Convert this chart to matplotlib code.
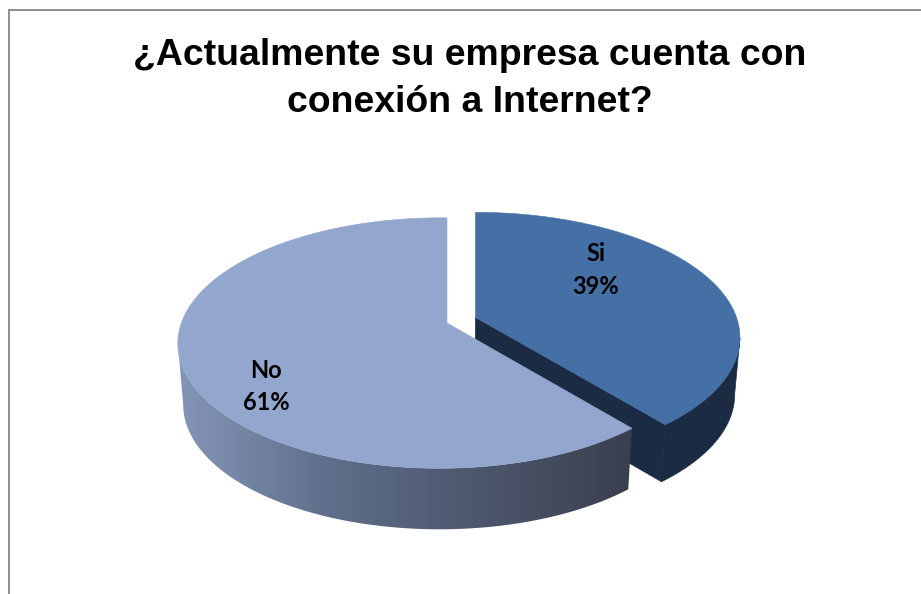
import numpy as np
import matplotlib.pyplot as plt
from matplotlib.colors import LinearSegmentedColormap
from matplotlib.patches import Polygon

labels = ['Si', 'No']
shares = [39, 61]
title = '¿Actualmente su empresa cuenta con\nconexión a Internet?'

# Slice colours: top face, then side wall
TOP_COLORS = ['#4570A6', '#92A6CE']
SI_WALL = '#1A2B43'
NO_WALL = LinearSegmentedColormap.from_list('no_wall', ['#8496B8', '#5F6E8A', '#4C566C', '#3A3F4F'])

# Projection of the pie disc (canvas units are pixels, y pointing down)
RY, PERSP = 122.0, 0.16
WALL_SCALE = 0.98
SI_GEOM = dict(apex=(475.5, 317.5), rx=261.0, skew=0.0, drop=57.0)
NO_GEOM = dict(apex=(447.0, 323.0), rx=259.0, skew=0.025, drop=61.0)


def rim(theta, geom):
    """Top-face rim points for clockwise-from-top angles."""
    px, py = np.sin(theta), np.cos(theta)
    w = 1 + PERSP * py + geom['skew'] * px
    return geom['apex'][0] + geom['rx'] * px / w, geom['apex'][1] - RY * py / w


def low_rim(theta, geom):
    x, y = rim(theta, geom)
    return geom['apex'][0] + WALL_SCALE * (x - geom['apex'][0]), y + geom['drop']


def wall_polygon(start, stop, geom, pick):
    """Outline of the visible wall, from the slice edge round to the side extreme of the rim."""
    theta = np.linspace(start, stop, 400)
    x0, y0 = rim(theta, geom)
    x1, y1 = low_rim(theta, geom)
    cut_top, cut_low = pick(x0), pick(x1)
    # keep the front part of each arc, between the slice corner and the extreme
    top_idx = np.arange(cut_top, len(theta)) if start < np.pi / 2 else np.arange(0, cut_top + 1)
    low_idx = np.arange(cut_low, len(theta)) if start < np.pi / 2 else np.arange(0, cut_low + 1)
    return np.c_[np.r_[x0[top_idx], x1[low_idx][::-1]], np.r_[y0[top_idx], y1[low_idx][::-1]]]


def top_polygon(start, stop, geom):
    x, y = rim(np.linspace(start, stop, 300), geom)
    return np.c_[np.r_[geom['apex'][0], x], np.r_[geom['apex'][1], y]]


fig = plt.figure(figsize=(9.21, 5.94), dpi=100)
ax = fig.add_axes([0, 0, 1, 1])

# Chart frame, running off the right and bottom of the canvas
ax.plot([9, 9, 921], [594, 10, 10], color='#8E8E8E', linewidth=1.4, solid_joinstyle='miter', zorder=1)

# Slice boundaries in radians, clockwise from twelve o'clock
edges = 2 * np.pi * np.cumsum([0] + shares) / sum(shares)

# "Si" goes first since the "No" slice overlaps it at the front
ax.add_patch(Polygon(wall_polygon(edges[0], edges[1], SI_GEOM, np.argmax), closed=True,
                     facecolor=SI_WALL, edgecolor=SI_WALL, linewidth=0.5, zorder=2))
apex_x, apex_y = SI_GEOM['apex']
corner_top = rim(edges[1], SI_GEOM)
corner_low = low_rim(edges[1], SI_GEOM)
ax.add_patch(Polygon([(apex_x, apex_y), corner_top, corner_low, (apex_x, apex_y + SI_GEOM['drop'])],
                     closed=True, facecolor=SI_WALL, edgecolor=SI_WALL, linewidth=0.5, zorder=2))
ax.add_patch(Polygon(top_polygon(edges[0], edges[1], SI_GEOM), closed=True,
                     facecolor=TOP_COLORS[0], edgecolor=TOP_COLORS[0], linewidth=0.4, zorder=3))

# The "No" wall is a horizontal gradient clipped to the wall outline
wall_outline = Polygon(wall_polygon(edges[1], edges[2], NO_GEOM, np.argmin), closed=True,
                       transform=ax.transData, facecolor='none', edgecolor='none')
gradient = ax.imshow(np.linspace(0, 1, 256)[None, :], cmap=NO_WALL, aspect='auto',
                     extent=(178, 632, 540, 340), zorder=4)
ax.add_patch(wall_outline)
gradient.set_clip_path(wall_outline)
ax.add_patch(Polygon(top_polygon(edges[1], edges[2], NO_GEOM), closed=True,
                     facecolor=TOP_COLORS[1], edgecolor=TOP_COLORS[1], linewidth=0.4, zorder=5))

# Data labels
label_xy = [(595.5, 270), (266, 386.5)]
for name, share, (lx, ly) in zip(labels, shares, label_xy):
    ax.text(lx, ly, f'{name}\n{share}%', ha='center', va='center', family='Lato',
            fontweight='bold', fontsize=17, linespacing=1.48, color='black', zorder=6)

ax.text(470, 79, title, ha='center', va='center', family='Liberation Sans',
        fontweight='bold', fontsize=26.9, linespacing=1.42, color='black', zorder=6)

ax.set_xlim(0, 921)
ax.set_ylim(594, 0)
ax.axis('off')

fig.savefig('out.png', dpi=100, facecolor='white')
